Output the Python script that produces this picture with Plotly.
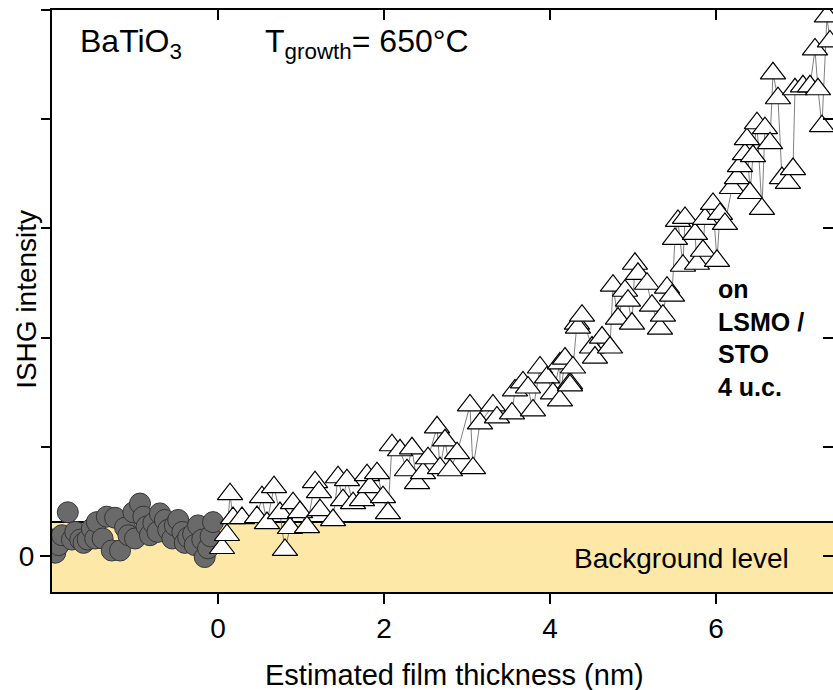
import plotly.graph_objects as go

# Substrate / reference points before growth (gray circles)
pre_x = [-1.99, -1.96, -1.92, -1.88, -1.81, -1.76, -1.72, -1.66, -1.62, -1.57,
         -1.52, -1.48, -1.46, -1.39, -1.34, -1.28, -1.24, -1.18, -1.12, -1.08,
         -1.02, -1.00, -0.94, -0.90, -0.86, -0.82, -0.78, -0.73, -0.70, -0.64,
         -0.60, -0.55, -0.52, -0.48, -0.43, -0.40, -0.36, -0.30, -0.28, -0.24,
         -0.19, -0.16, -0.12, -0.09, -0.06]
pre_y = [0.15, 0.03, 0.10, 0.19, 0.40, 0.15, 0.22, 0.15, 0.12, 0.15,
         0.25, 0.16, 0.31, 0.16, 0.36, 0.05, 0.35, 0.05, 0.26, 0.19,
         0.40, 0.16, 0.48, 0.36, 0.27, 0.19, 0.30, 0.22, 0.39, 0.33,
         0.24, 0.16, 0.28, 0.33, 0.22, 0.12, 0.17, 0.20, 0.10, 0.28,
         0.15, -0.01, 0.07, 0.18, 0.31]

# BaTiO3 growth on LSMO / STO (white triangles)
film_x = [0.048, 0.108, 0.145, 0.181, 0.289, 0.470, 0.530, 0.590, 0.675, 0.747,
          0.807, 0.867, 0.904, 0.988, 1.072, 1.169, 1.217, 1.229, 1.386, 1.446,
          1.506, 1.554, 1.627, 1.735, 1.795, 1.831, 1.916, 1.988, 2.048, 2.096,
          2.193, 2.277, 2.337, 2.398, 2.470, 2.530, 2.639, 2.675, 2.735, 2.795,
          2.880, 3.036, 3.072, 3.157, 3.313, 3.361, 3.542, 3.578, 3.675, 3.735,
          3.795, 3.880, 3.964, 4.036, 4.120, 4.120, 4.181, 4.241, 4.241, 4.277,
          4.325, 4.337, 4.386, 4.506, 4.542, 4.627, 4.723, 4.759, 4.819, 4.904,
          4.940, 4.988, 5.024, 5.060, 5.169, 5.229, 5.325, 5.361, 5.410, 5.470,
          5.506, 5.542, 5.602, 5.627, 5.747, 5.771, 5.843, 5.867, 5.964, 6.012,
          6.048, 6.108, 6.193, 6.253, 6.289, 6.349, 6.373, 6.410, 6.446, 6.494,
          6.554, 6.590, 6.651, 6.687, 6.747, 6.795, 6.867, 6.928, 6.952, 7.048,
          7.133, 7.193, 7.229, 7.277, 7.337, 7.373]
film_y = [0.073, 0.192, 0.566, 0.347, 0.347, 0.356, 0.539, 0.301, 0.630, 0.393,
          0.055, 0.256, 0.484, 0.402, 0.265, 0.676, 0.584, 0.420, 0.329, 0.721,
          0.511, 0.694, 0.484, 0.511, 0.740, 0.630, 0.758, 0.539, 0.393, 1.014,
          0.968, 0.785, 0.986, 0.667, 0.758, 0.895, 1.178, 0.804, 1.059, 0.785,
          0.941, 1.379, 0.804, 1.215, 1.379, 1.269, 1.306, 1.516, 1.589, 1.543,
          1.333, 1.726, 1.635, 1.489, 1.763, 1.425, 1.808, 1.580, 1.562, 1.726,
          2.128, 2.091, 2.201, 1.909, 1.817, 2.000, 1.909, 2.475, 2.174, 2.429,
          2.338, 2.128, 2.676, 2.584, 2.493, 2.292, 2.082, 2.201, 2.457, 2.384,
          2.904, 3.068, 2.658, 3.096, 2.950, 2.676, 2.795, 3.087, 3.224, 2.703,
          3.132, 3.041, 3.370, 3.461, 3.571, 3.680, 3.817, 3.324, 3.662, 3.963,
          3.178, 3.918, 3.781, 4.420, 4.192, 3.461, 3.416, 3.543, 4.274, 4.301,
          4.301, 4.639, 4.274, 3.936, 4.941, 4.712]

# Axis settings
x_range = [-2.0, 7.41]
y_range = [-0.33, 5.0]
x_ticks = [0, 2, 4, 6]
x_ticktext = ["0", "2", "4", "6"]
y_ticks = [0, 1, 2, 3, 4, 5]
y_label_ticks = [0]
y_label_text = ["0"]
background_top = 0.31

FONT = "Liberation Sans, Arial, Helvetica, sans-serif"

fig = go.Figure()

fig.add_trace(go.Scatter(
    x=pre_x, y=pre_y, mode="markers",
    marker=dict(symbol="circle", size=21, color="#6a6a6a",
                line=dict(color="#353535", width=1)),
    showlegend=False, hoverinfo="skip",
))

fig.add_trace(go.Scatter(
    x=film_x, y=film_y, mode="lines+markers",
    line=dict(color="#606060", width=0.8),
    marker=dict(symbol="triangle-up", size=22, color="white",
                line=dict(color="black", width=1.2)),
    showlegend=False, hoverinfo="skip",
))

# carrier traces for the extra tick axes (top, right, unlabeled left ticks)
fig.add_trace(go.Scatter(x=[None], y=[None], xaxis="x2", yaxis="y2",
                         showlegend=False, hoverinfo="skip"))
fig.add_trace(go.Scatter(x=[None], y=[None], xaxis="x", yaxis="y3",
                         showlegend=False, hoverinfo="skip"))

# background level band
fig.add_shape(type="rect", xref="x", yref="y",
              x0=x_range[0], x1=x_range[1], y0=y_range[0], y1=background_top,
              fillcolor="#FDE8A8", line=dict(width=0), layer="below")
fig.add_shape(type="line", xref="x", yref="y",
              x0=x_range[0], x1=x_range[1], y0=background_top, y1=background_top,
              line=dict(color="black", width=2), layer="below")

axis_common = dict(showgrid=False, zeroline=False, linecolor="black",
                   linewidth=2, tickcolor="black", tickwidth=2, ticklen=10)

fig.update_layout(
    width=833, height=690,
    margin=dict(l=52, r=0, t=10, b=98),
    paper_bgcolor="white", plot_bgcolor="white",
    font=dict(family=FONT, size=28, color="black"),
    xaxis=dict(range=x_range, tickmode="array", tickvals=x_ticks,
               ticktext=x_ticktext, ticks="outside", showline=True,
               tickfont=dict(size=28), **axis_common),
    xaxis2=dict(range=x_range, overlaying="x", side="top", tickmode="array",
                tickvals=x_ticks, ticks="inside", showline=True,
                showticklabels=False, **axis_common),
    yaxis=dict(range=y_range, tickmode="array", tickvals=y_label_ticks,
               ticktext=y_label_text, ticks="outside", showline=True,
               tickfont=dict(size=28), **axis_common),
    yaxis2=dict(range=y_range, overlaying="y", side="right", tickmode="array",
                tickvals=y_ticks, ticks="inside", showline=False,
                showticklabels=False, **axis_common),
    yaxis3=dict(range=y_range, overlaying="y", side="left", tickmode="array",
                tickvals=y_ticks, ticks="outside", showline=False,
                showticklabels=False, **axis_common),
)

annotations = [
    dict(text="Estimated film thickness (nm)", x=0.516, y=-0.143,
         xanchor="center", yanchor="middle", font=dict(size=29)),
    dict(text="ISHG intensity", x=-0.032, y=0.502, textangle=-90,
         xanchor="center", yanchor="middle", font=dict(size=28)),
    dict(text="BaTiO<sub>3</sub>", x=0.033, y=0.943,
         xanchor="left", yanchor="middle", font=dict(size=32)),
    dict(text="T<sub>growth</sub>= 650°C", x=0.270, y=0.943,
         xanchor="left", yanchor="middle", font=dict(size=32)),
    dict(text="<b>on<br>LSMO /<br>STO<br>4 u.c.</b>", x=0.850, y=0.436,
         xanchor="left", yanchor="middle", align="left", font=dict(size=25)),
    dict(text="Background level", x=0.806, y=0.058,
         xanchor="center", yanchor="middle", font=dict(size=28)),
]
for a in annotations:
    fig.add_annotation(xref="paper", yref="paper", showarrow=False, **a)

fig.write_html("out.html")
